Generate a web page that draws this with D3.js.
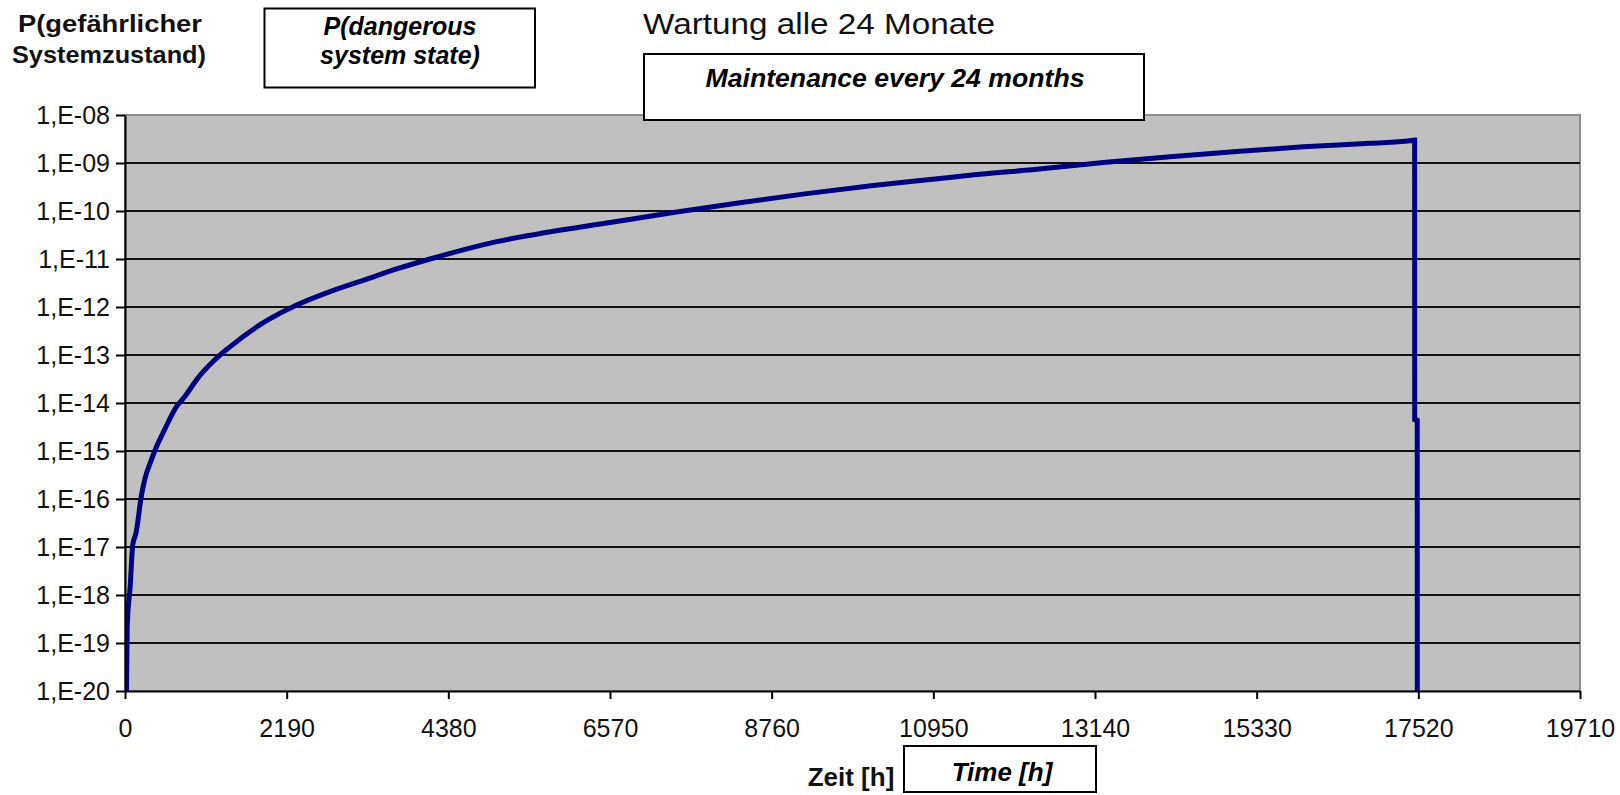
<!DOCTYPE html>
<html>
<head>
<meta charset="utf-8">
<script src="https://cdn.jsdelivr.net/npm/d3@7"></script>
<style>
  html, body { margin: 0; padding: 0; background: #fff; }
  svg { display: block; font-family: "Liberation Sans", Arial, sans-serif; }
</style>
</head>
<body>
<svg id="chart" width="1620" height="795"></svg>
<script>
// ---- data ----
const hours = [20, 30, 70, 105, 150, 176, 212, 266, 357, 424, 537, 695, 808, 1000, 1196, 1422, 1874, 2326, 2777, 3228, 3680, 4132, 4583, 5035, 5554, 6525, 7428, 8331, 9234, 10137, 11040, 11447, 12350, 13253, 14156, 15059, 15962, 16865, 17407, 17470, 17471, 17505, 17506];
const probability = [1e-20, 2.2e-19, 1.5e-18, 1.1e-17, 2.0e-17, 3.6e-17, 9.5e-17, 2.5e-16, 6.5e-16, 1.2e-15, 2.8e-15, 8.3e-15, 1.35e-14, 3.5e-14, 7.4e-14, 1.48e-13, 4.7e-13, 1.1e-12, 2.1e-12, 3.6e-12, 6.2e-12, 1.0e-11, 1.55e-11, 2.3e-11, 3.25e-11, 5.6e-11, 9.3e-11, 1.48e-10, 2.3e-10, 3.4e-10, 4.75e-10, 5.55e-10, 7.4e-10, 1.02e-9, 1.35e-9, 1.74e-9, 2.17e-9, 2.57e-9, 2.9e-9, 3.0e-9, 4.5e-15, 4.4e-15, 1e-20];
const xTickValues = [0, 2190, 4380, 6570, 8760, 10950, 13140, 15330, 17520, 19710];
const yTickValues = [1e-8, 1e-9, 1e-10, 1e-11, 1e-12, 1e-13, 1e-14, 1e-15, 1e-16, 1e-17, 1e-18, 1e-19, 1e-20];
const yTickLabels = ["1,E-08", "1,E-09", "1,E-10", "1,E-11", "1,E-12", "1,E-13", "1,E-14", "1,E-15", "1,E-16", "1,E-17", "1,E-18", "1,E-19", "1,E-20"];
const titleDe = "Wartung alle 24 Monate";
const titleEn = "Maintenance every 24 months";
const yLabelDe = ["P(gefährlicher", "Systemzustand)"];
const yLabelEn = ["P(dangerous", "system state)"];
const xLabelDe = "Zeit [h]";
const xLabelEn = "Time [h]";

// ---- layout ----
const L = 125, R = 1580, T = 115, B = 691;
const svg = d3.select("#chart");

const x = d3.scaleLinear().domain([0, 19710]).range([L, R]);
const y = d3.scaleLog().domain([1e-20, 1e-8]).range([B, T]);

// plot background
svg.append("rect").attr("x", L).attr("y", T).attr("width", R - L).attr("height", B - T)
  .attr("fill", "#c0c0c0").attr("stroke", "#8c8c8c").attr("stroke-width", 2);

// gridlines
svg.append("g").selectAll("line")
  .data(yTickValues.filter(v => v !== 1e-8 && v !== 1e-20))
  .join("line")
  .attr("x1", L).attr("x2", R)
  .attr("y1", d => y(d)).attr("y2", d => y(d))
  .attr("stroke", "#111").attr("stroke-width", 2);

// series line
svg.append("clipPath").attr("id", "clip").append("rect")
  .attr("x", L).attr("y", T - 3).attr("width", R - L).attr("height", B - T + 3);
const pts = hours.map((h, i) => [h, probability[i]]);
const line = d3.line().curve(d3.curveMonotoneX)
  .x(d => x(d[0])).y(d => y(Math.max(d[1], 1e-20)));
svg.append("path").datum(pts)
  .attr("clip-path", "url(#clip)")
  .attr("d", line)
  .attr("fill", "none").attr("stroke", "#000080").attr("stroke-width", 5)
  .attr("stroke-linejoin", "miter");

// axes
const yAxis = d3.axisLeft(y).tickValues(yTickValues)
  .tickFormat((d, i) => yTickLabels[i]).tickSize(9).tickSizeOuter(0).tickPadding(6);
const gy = svg.append("g").attr("transform", `translate(${L},0)`).call(yAxis);
gy.select(".domain").attr("stroke", "#000").attr("stroke-width", 2);
gy.selectAll(".tick line").attr("stroke", "#000").attr("stroke-width", 2);
gy.selectAll(".tick text").attr("font-size", 25).attr("fill", "#111")
  .attr("font-family", "'Liberation Sans', Arial, sans-serif");

const xAxis = d3.axisBottom(x).tickValues(xTickValues).tickFormat(d => String(d))
  .tickSize(8).tickSizeOuter(0).tickPadding(20);
const gx = svg.append("g").attr("transform", `translate(0,${B})`).call(xAxis);
gx.select(".domain").attr("stroke", "#000").attr("stroke-width", 2);
gx.selectAll(".tick line").attr("stroke", "#000").attr("stroke-width", 2);
gx.selectAll(".tick text").attr("font-size", 25).attr("fill", "#111")
  .attr("font-family", "'Liberation Sans', Arial, sans-serif");

// German labels
svg.append("text").attr("x", 643).attr("y", 34).attr("font-size", 29).attr("fill", "#111")
  .attr("textLength", 352).attr("lengthAdjust", "spacingAndGlyphs").text(titleDe);

const yl = svg.append("g").attr("font-weight", "bold").attr("font-size", 24).attr("fill", "#111");
yl.append("text").attr("x", 110).attr("y", 32).attr("text-anchor", "middle")
  .attr("textLength", 184).attr("lengthAdjust", "spacingAndGlyphs").text(yLabelDe[0]);
yl.append("text").attr("x", 109).attr("y", 63).attr("text-anchor", "middle")
  .attr("textLength", 194).attr("lengthAdjust", "spacingAndGlyphs").text(yLabelDe[1]);

svg.append("text").attr("x", 851).attr("y", 786).attr("text-anchor", "middle")
  .attr("font-weight", "bold").attr("font-size", 26).attr("fill", "#111").text(xLabelDe);

// English boxes
function box(x0, y0, x1, y1) {
  svg.append("rect").attr("x", x0).attr("y", y0).attr("width", x1 - x0).attr("height", y1 - y0)
    .attr("fill", "#fff").attr("stroke", "#000").attr("stroke-width", 2);
}
box(264.5, 8.5, 535, 87.5);
const e1 = svg.append("g").attr("font-weight", "bold").attr("font-style", "italic")
  .attr("font-size", 25).attr("fill", "#000").attr("text-anchor", "middle");
e1.append("text").attr("x", 400).attr("y", 35).text(yLabelEn[0]);
e1.append("text").attr("x", 400).attr("y", 64).text(yLabelEn[1]);

box(644, 54, 1144, 120);
svg.append("text").attr("x", 895).attr("y", 87).attr("text-anchor", "middle")
  .attr("font-weight", "bold").attr("font-style", "italic").attr("font-size", 25)
  .attr("textLength", 379).attr("lengthAdjust", "spacingAndGlyphs").text(titleEn);

box(904, 746, 1096, 792);
svg.append("text").attr("x", 1002).attr("y", 781).attr("text-anchor", "middle")
  .attr("font-weight", "bold").attr("font-style", "italic").attr("font-size", 26)
  .text(xLabelEn);
</script>
</body>
</html>
